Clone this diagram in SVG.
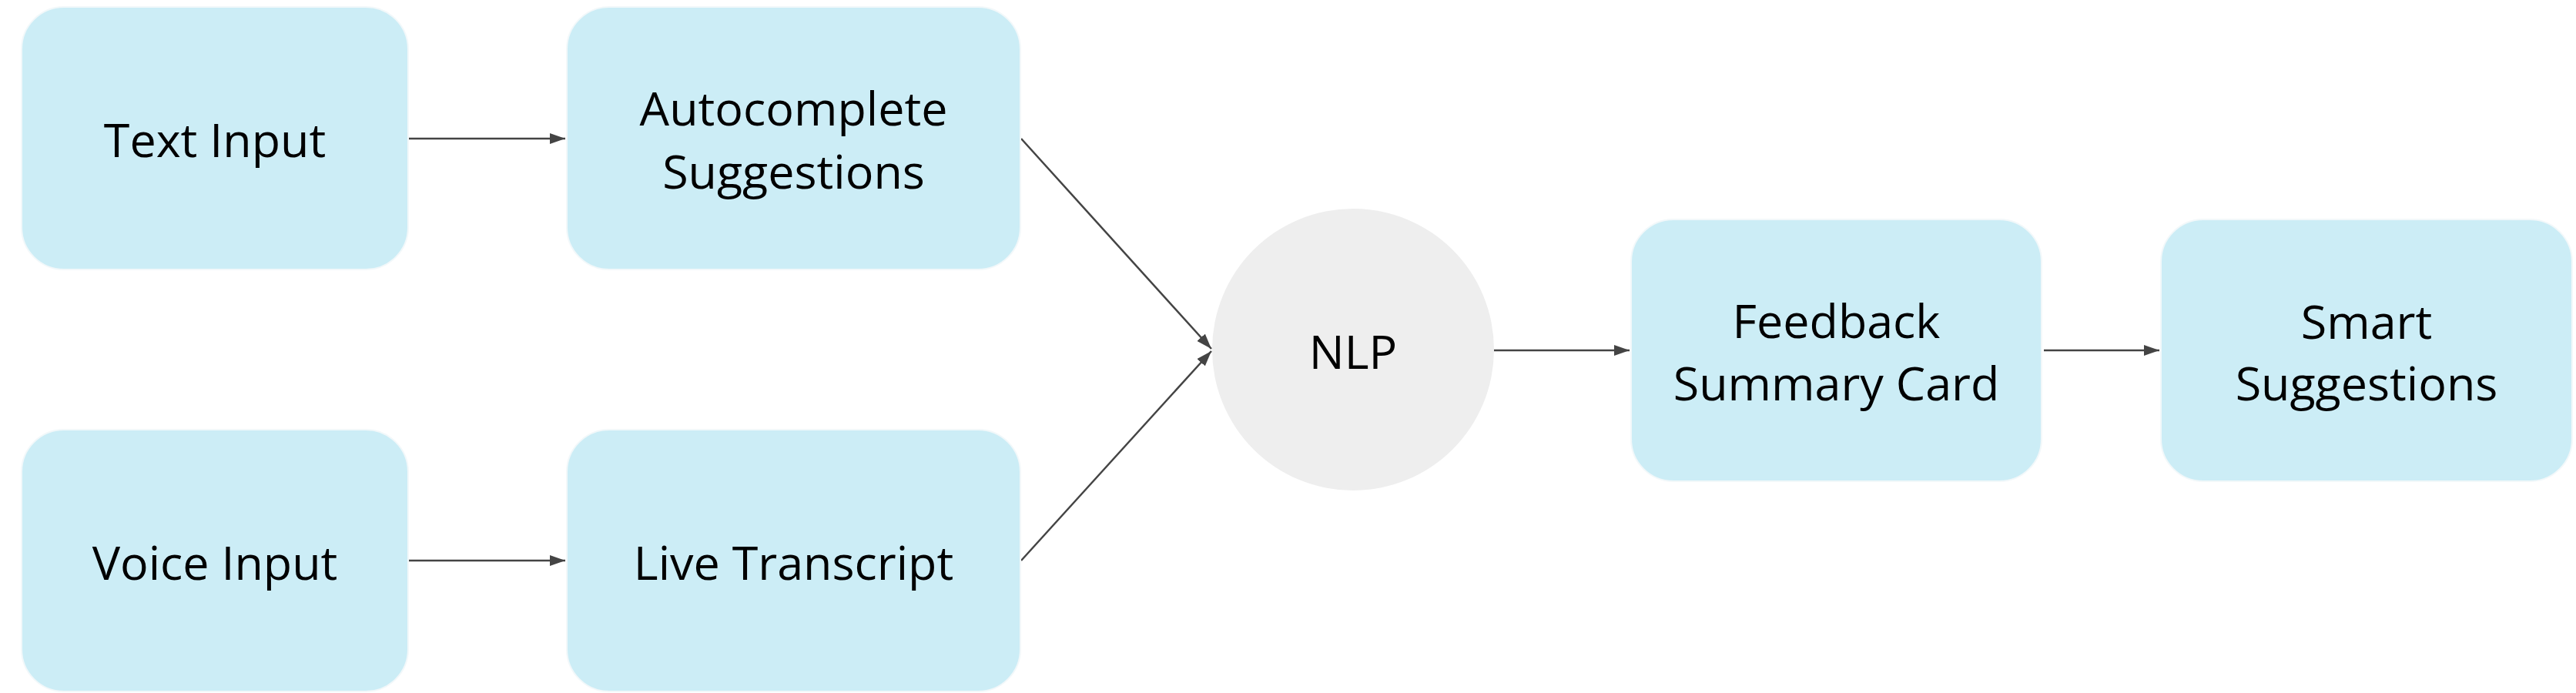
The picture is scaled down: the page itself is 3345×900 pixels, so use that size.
<svg xmlns="http://www.w3.org/2000/svg" width="3345" height="900" viewBox="0 0 3345 900">
  <defs>
    <marker id="arrow" viewBox="0 0 20 14" refX="20" refY="7" markerWidth="20" markerHeight="14" markerUnits="userSpaceOnUse" orient="auto">
      <path d="M0,0 L20,7 L0,14 Z" fill="#444444"/>
    </marker>
    <style>
      .box { fill: #CCEDF6; stroke: #F2F8FA; stroke-width: 2; }
      .circle { fill: #EEEEEE; }
      .label { font-family: "Open Sans", "Liberation Sans", sans-serif; font-size: 61px; fill: #000000; text-anchor: middle; }
      .edge { stroke: #444444; stroke-width: 2.5; fill: none; marker-end: url(#arrow); }
    </style>
  </defs>
  <rect width="3345" height="900" fill="#FFFFFF"/>

  <g id="connectors">
    <line class="edge" x1="531" y1="180" x2="734" y2="180"/>
    <line class="edge" x1="531" y1="728" x2="734" y2="728"/>
    <line class="edge" x1="1326" y1="180" x2="1573" y2="453"/>
    <line class="edge" x1="1326" y1="728" x2="1573" y2="456"/>
    <line class="edge" x1="1940" y1="455" x2="2116" y2="455"/>
    <line class="edge" x1="2654" y1="455" x2="2804" y2="455"/>
  </g>

  <g id="text-input">
    <rect class="box" x="28" y="9" width="502" height="341" rx="55" ry="55"/>
    <text class="label" x="279" y="204">Text Input</text>
  </g>
  <g id="autocomplete-suggestions">
    <rect class="box" x="736" y="9" width="589" height="341" rx="55" ry="55"/>
    <text class="label" x="1030.5" y="163">Autocomplete</text>
    <text class="label" x="1030.5" y="245">Suggestions</text>
  </g>
  <g id="voice-input">
    <rect class="box" x="28" y="558" width="502" height="340" rx="55" ry="55"/>
    <text class="label" x="279" y="753">Voice Input</text>
  </g>
  <g id="live-transcript">
    <rect class="box" x="736" y="558" width="589" height="340" rx="55" ry="55"/>
    <text class="label" x="1030.5" y="753">Live Transcript</text>
  </g>
  <g id="nlp">
    <circle class="circle" cx="1757" cy="454" r="183"/>
    <text class="label" x="1757" y="479">NLP</text>
  </g>
  <g id="feedback-summary-card">
    <rect class="box" x="2118" y="285" width="533" height="340" rx="55" ry="55"/>
    <text class="label" x="2384.5" y="439">Feedback</text>
    <text class="label" x="2384.5" y="520">Summary Card</text>
  </g>
  <g id="smart-suggestions">
    <rect class="box" x="2806" y="285" width="534" height="340" rx="55" ry="55"/>
    <text class="label" x="3073" y="440">Smart</text>
    <text class="label" x="3073" y="520">Suggestions</text>
  </g>
</svg>
